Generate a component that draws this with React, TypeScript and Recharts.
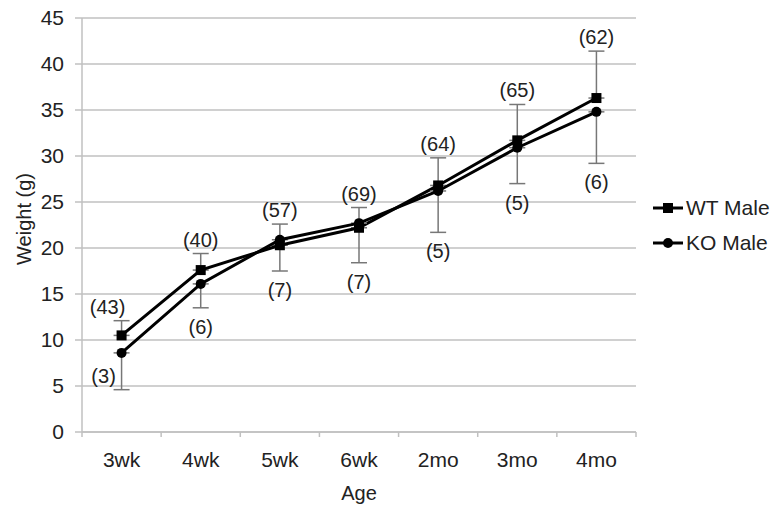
import React from 'react';
import {
  LineChart,
  Line,
  XAxis,
  YAxis,
  CartesianGrid,
  ErrorBar,
  LabelList,
  Legend,
} from 'recharts';

const categories = ['3wk', '4wk', '5wk', '6wk', '2mo', '3mo', '4mo'];
const wtMale = [10.5, 17.6, 20.3, 22.2, 26.8, 31.7, 36.3];
const wtErrUp = [1.6, 1.8, 2.3, 2.2, 3.0, 3.9, 5.1];
const wtCount = [43, 40, 57, 69, 64, 65, 62];
const koMale = [8.6, 16.1, 20.9, 22.7, 26.2, 30.9, 34.8];
const koErrDown = [4.0, 2.6, 3.4, 4.3, 4.5, 3.9, 5.6];
const koCount = [3, 6, 7, 7, 5, 5, 6];
const yTicks = [0, 5, 10, 15, 20, 25, 30, 35, 40, 45];
const legendOrder = ['wt', 'ko'];

const data = categories.map((age, i) => ({
  age,
  wt: wtMale[i],
  ko: koMale[i],
  wtErr: [0, wtErrUp[i]],
  koErr: [koErrDown[i], 0],
  wtCap: wtMale[i] + wtErrUp[i],
  koCap: koMale[i] - koErrDown[i],
  wtN: `(${wtCount[i]})`,
  koN: `(${koCount[i]})`,
}));

const FONT = '"Liberation Sans", Arial, sans-serif';
const TEXT = '#222';
const GRID = '#c0c0c0';
const FS = 21;

const AgeTick = (props: any) => {
  const { x, y, payload, index, width } = props;
  const half = (width || 554) / categories.length / 2;
  return (
    <g>
      <line x1={x - half} x2={x - half} y1={y} y2={y + 5} stroke={GRID} strokeWidth={1.5} />
      {index === categories.length - 1 && (
        <line x1={x + half} x2={x + half} y1={y} y2={y + 5} stroke={GRID} strokeWidth={1.5} />
      )}
      <text x={x} y={y + 35} textAnchor="middle" fill={TEXT} fontSize={FS} fontFamily={FONT}>
        {payload.value}
      </text>
    </g>
  );
};

const CountLabel = (above: boolean) => (props: any) => {
  const { x, y, value, index } = props;
  const dx = index === 0 ? (above ? -14 : -18) : 0;
  const dy = above ? -14 : index === 0 ? -14 : 19;
  return (
    <text
      x={x + dx}
      y={y + dy}
      textAnchor="middle"
      dominantBaseline="central"
      fill={TEXT}
      fontSize={20}
      fontFamily={FONT}
    >
      {value}
    </text>
  );
};

const WeightLabel = (props: any) => {
  const { viewBox } = props;
  const cy = viewBox.y + viewBox.height / 2 - 6;
  return (
    <text
      x={24}
      y={cy}
      transform={`rotate(-90 24 ${cy})`}
      textAnchor="middle"
      dominantBaseline="central"
      fill={TEXT}
      fontSize={20}
      fontFamily={FONT}
    >
      Weight (g)
    </text>
  );
};

const LegendContent = (props: any) => {
  const items = (props.payload || [])
    .filter((p: any) => legendOrder.includes(p.dataKey))
    .sort((a: any, b: any) => legendOrder.indexOf(a.dataKey) - legendOrder.indexOf(b.dataKey));
  return (
    <div style={{ fontFamily: FONT, fontSize: FS, color: TEXT, whiteSpace: 'nowrap' }}>
      {items.map((p: any) => (
        <div key={p.value} style={{ display: 'flex', alignItems: 'center', height: 35 }}>
          <svg width={30} height={14} style={{ flexShrink: 0 }}>
            <line x1={0} y1={7} x2={30} y2={7} stroke="#000" strokeWidth={3} />
            {p.dataKey === 'wt' ? (
              <rect x={10} y={2} width={10} height={10} fill="#000" />
            ) : (
              <circle cx={15} cy={7} r={5} fill="#000" />
            )}
          </svg>
          <span style={{ marginLeft: 3 }}>{p.value}</span>
        </div>
      ))}
    </div>
  );
};

const SquareDot = (props: any) => {
  const { cx, cy } = props;
  return <rect x={cx - 5} y={cy - 5} width={10} height={10} fill="#000" />;
};

export default function App() {
  return (
    <div style={{ position: 'absolute', left: 0, top: 0 }}>
      <LineChart
        width={778}
        height={513}
        data={data}
        margin={{ top: 18, right: 142, bottom: 0, left: 0 }}
      >
        <CartesianGrid vertical={false} stroke={GRID} strokeWidth={1.5} />
        <XAxis
          dataKey="age"
          scale="band"
          height={81}
          tickLine={false}
          tickSize={0}
          tickMargin={0}
          axisLine={{ stroke: GRID, strokeWidth: 1.5 }}
          tick={<AgeTick />}
          interval={0}
          label={{
            value: 'Age',
            position: 'insideBottom',
            offset: 13,
            fill: TEXT,
            fontSize: 20,
            fontFamily: FONT,
          }}
        />
        <YAxis
          width={82}
          domain={[0, 45]}
          ticks={yTicks}
          interval={0}
          tickSize={7}
          tickMargin={11}
          tickLine={{ stroke: GRID, strokeWidth: 1.5 }}
          axisLine={{ stroke: GRID, strokeWidth: 1.5 }}
          tick={{ fill: TEXT, fontSize: FS, fontFamily: FONT }}
          label={<WeightLabel />}
        />
        <Legend
          layout="vertical"
          align="center"
          verticalAlign="middle"
          wrapperStyle={{ left: 653, top: 190, width: 125 }}
          content={<LegendContent />}
        />
        <Line
          dataKey="wtCap"
          stroke="none"
          dot={false}
          activeDot={false}
          legendType="none"
          isAnimationActive={false}
        >
          <LabelList dataKey="wtN" content={CountLabel(true)} />
        </Line>
        <Line
          dataKey="koCap"
          stroke="none"
          dot={false}
          activeDot={false}
          legendType="none"
          isAnimationActive={false}
        >
          <LabelList dataKey="koN" content={CountLabel(false)} />
        </Line>
        <Line
          name="WT Male"
          dataKey="wt"
          stroke="#000"
          strokeWidth={3}
          dot={<SquareDot />}
          isAnimationActive={false}
        >
          <ErrorBar dataKey="wtErr" width={8} stroke="#777" strokeWidth={1.5} direction="y" />
        </Line>
        <Line
          name="KO Male"
          dataKey="ko"
          stroke="#000"
          strokeWidth={3}
          dot={{ r: 5, fill: '#000', stroke: '#000', strokeWidth: 0 }}
          isAnimationActive={false}
        >
          <ErrorBar dataKey="koErr" width={8} stroke="#777" strokeWidth={1.5} direction="y" />
        </Line>
      </LineChart>
    </div>
  );
}
